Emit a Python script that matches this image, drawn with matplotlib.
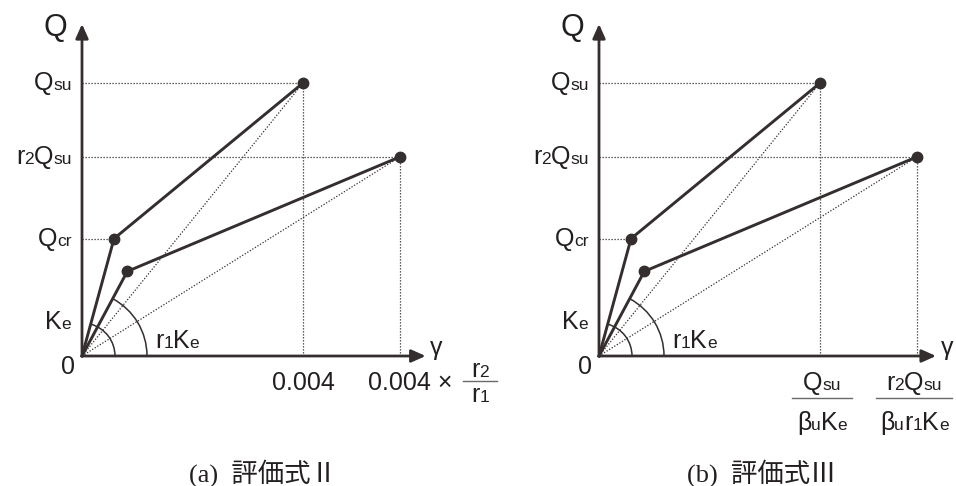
import numpy as np
import matplotlib
matplotlib.use('Agg')
from matplotlib import pyplot as plt
from matplotlib.patches import Arc
from matplotlib.lines import Line2D
from matplotlib.offsetbox import TextArea, HPacker, AnnotationBbox

plt.rcParams['font.family'] = ['Liberation Sans', 'DejaVu Sans']

# skeleton curves: shear strain gamma vs Q/Qsu
gamma_main = [0.0, 0.00058, 0.004]
q_main = [0.0, 0.43, 1.0]
gamma_red = [0.0, 0.00082, 0.00576]
q_red = [0.0, 0.31, 0.73]

q_ticks = [1.0, 0.73, 0.43]
# labels as (text, is_subscript) pieces
q_tick_labels = [[('Q', 0), ('su', 1)],
                 [('r', 0), ('2', 1), ('Q', 0), ('su', 1)],
                 [('Q', 0), ('cr', 1)]]
captions = ['(a)  評価式Ⅱ', '(b)  評価式Ⅲ']

W, H = 956, 486
DARK = '#352e2e'
TXT = '#231f20'
BIG, SMALL = 18, 12.5

fig = plt.figure(figsize=(W / 100, H / 100), dpi=100)

px_x = 0.004 / 221   # gamma per pixel
px_y = 1.0 / 273     # Q/Qsu per pixel


def make_panel(left, right, x0, y0):
    ax = fig.add_axes([left / W, 0, (right - left) / W, 1])
    ax.set_xlim(-(x0 - left) * px_x, (right - x0) * px_x)
    ax.set_ylim(-(H - y0) * px_y, y0 * px_y)
    ax.axis('off')
    return ax


def rich(ax, parts, xy, off, align=(0.5, 0.5), big=BIG, small=SMALL):
    kids = [TextArea(t, textprops=dict(fontsize=small if s else big, color=TXT))
            for t, s in parts]
    box = HPacker(children=kids, align='baseline', pad=0, sep=0)
    ab = AnnotationBbox(box, xy, xybox=off, boxcoords='offset pixels',
                        box_alignment=align, frameon=False, pad=0,
                        annotation_clip=False)
    ax.add_artist(ab)


def frac(ax, g, num, den, dx, dnum, dbar, dden, half):
    rich(ax, num, (g, 0), (dx, -dnum))
    rich(ax, den, (g, 0), (dx, -dden))
    x, y = ax.transData.transform((g, 0))
    x += dx
    fig.add_artist(Line2D([x - half, x + half], [y - dbar, y - dbar], transform=None,
                          color='#6a6a6a', lw=1.0))


def draw_common(ax, x_tip):
    q_top = 1.216
    arrow = dict(arrowstyle='-|>,head_length=0.85,head_width=0.38',
                 lw=2.0, color=DARK, shrinkA=0, shrinkB=0)
    ax.annotate('', xy=(0, q_top), xytext=(0, 0), arrowprops=arrow)
    ax.annotate('', xy=(x_tip, 0), xytext=(0, 0), arrowprops=arrow)
    dots = (0, (1, 1.4))
    # dotted guides
    ax.plot([0, gamma_main[2]], [q_main[2], q_main[2]], color=DARK, lw=0.9, ls=dots)
    ax.plot([0, gamma_red[2]], [q_red[2], q_red[2]], color=DARK, lw=0.9, ls=dots)
    ax.plot([0, gamma_main[1]], [q_main[1], q_main[1]], color=DARK, lw=0.9, ls=dots)
    ax.plot([gamma_main[2], gamma_main[2]], [0, q_main[2]], color=DARK, lw=0.9, ls=dots)
    ax.plot([gamma_red[2], gamma_red[2]], [0, q_red[2]], color=DARK, lw=0.9, ls=dots)
    ax.plot([0, gamma_main[2]], [0, q_main[2]], color=DARK, lw=0.9, ls=dots)
    ax.plot([0, gamma_red[2]], [0, q_red[2]], color=DARK, lw=0.9, ls=dots)
    # skeleton curves
    ax.plot(gamma_main, q_main, color=DARK, lw=2.1, solid_joinstyle='round')
    ax.plot(gamma_red, q_red, color=DARK, lw=2.1, solid_joinstyle='round')
    ax.plot(gamma_main[1:], q_main[1:], 'o', color=DARK, ms=7.5)
    ax.plot(gamma_red[1:], q_red[1:], 'o', color=DARK, ms=7.5)
    # stiffness arcs
    for g, q, r in [(gamma_main[1], q_main[1], 33), (gamma_red[1], q_red[1], 65)]:
        th = np.degrees(np.arctan2(q, g))
        ax.add_patch(Arc((0, 0), 2 * r * px_x, 2 * r * px_y, theta1=0, theta2=th,
                         color=DARK, lw=1.1))
    # labels
    ax.annotate('Q', (0, q_top), xytext=(-27, -4), textcoords='offset pixels',
                ha='center', va='center', fontsize=22, color=TXT)
    for q, lab in zip(q_ticks, q_tick_labels):
        rich(ax, lab, (0, q), (-10, 0), align=(1, 0.5))
    rich(ax, [('K', 0), ('e', 1)], (0, 0), (-11, 34), align=(1, 0.5))
    rich(ax, [('r', 0), ('1', 1), ('K', 0), ('e', 1)], (0, 0), (73, 15), align=(0, 0.5))
    ax.annotate('0', (0, 0), xytext=(-14, -11), textcoords='offset pixels',
                ha='center', va='center', fontsize=BIG, color=TXT)
    ax.annotate('γ', (x_tip, 0), xytext=(11, 8), textcoords='offset pixels',
                ha='center', va='center', fontsize=BIG, color=TXT)


# panel (a)
ax1 = make_panel(0, 478, 82, 356)
draw_common(ax1, 0.00622)
ax1.annotate('0.004', (gamma_main[2], 0), xytext=(0, -27), textcoords='offset pixels',
             ha='center', va='center', fontsize=BIG, color=TXT)
ax1.annotate('0.004 ×', (gamma_red[2], 0), xytext=(10, -27), textcoords='offset pixels',
             ha='center', va='center', fontsize=BIG, color=TXT)
frac(ax1, gamma_red[2], [('r', 0), ('2', 1)], [('r', 0), ('1', 1)], 80, 14, 25, 39, 17)
fig.text(263 / W, 1 - 473 / H, captions[0], ha='center', va='center', fontsize=19,
         family=['Liberation Serif', 'Noto Sans CJK JP'], color=TXT)

# panel (b)
ax2 = make_panel(517, 956, 599, 356)
draw_common(ax2, 0.0061)
frac(ax2, gamma_main[2], [('Q', 0), ('su', 1)], [('β', 0), ('u', 1), ('K', 0), ('e', 1)],
     2, 27, 42, 67, 30)
frac(ax2, gamma_red[2], [('r', 0), ('2', 1), ('Q', 0), ('su', 1)],
     [('β', 0), ('u', 1), ('r', 0), ('1', 1), ('K', 0), ('e', 1)],
     -3, 27, 42, 67, 38)
fig.text(762 / W, 1 - 473 / H, captions[1], ha='center', va='center', fontsize=19,
         family=['Liberation Serif', 'Noto Sans CJK JP'], color=TXT)

fig.savefig('out.png', dpi=100, facecolor='white')
